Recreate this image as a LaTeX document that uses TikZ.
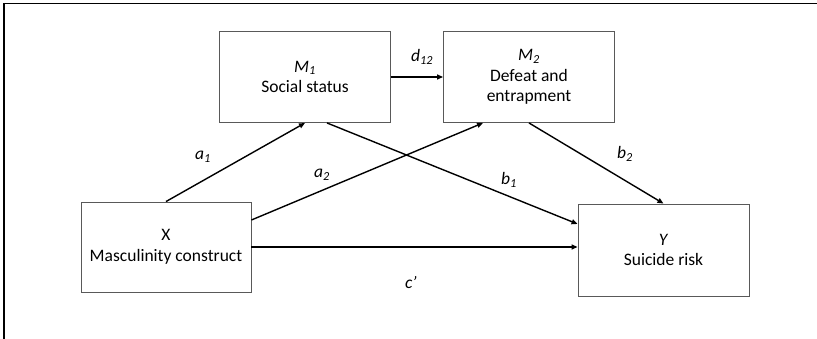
\documentclass[tikz,border=0pt]{standalone}
\usepackage{fontspec}
\setmainfont{Carlito}
\usepackage{tikz}
\usetikzlibrary{arrows.meta}

\tikzset{
 varbox/.style={draw=gray!70!black, line width=0.9pt, align=center, minimum width=171pt, minimum height=91pt, font=\fontsize{17.5}{20.5}\selectfont},
 path/.style={line width=1.4pt, -{Triangle[length=6pt,width=5pt]}},
 coef/.style={font=\fontsize{17.5}{20.5}\selectfont\itshape}
}
\newcommand{\sub}[2]{\textit{#1}\textsubscript{\textit{#2}}}

\begin{document}
\begin{tikzpicture}[x=1pt,y=-1pt]
\useasboundingbox (0,0) rectangle (817,339);
\draw[line width=1.3pt] (4,339) -- (4,3.5) -- (817,3.5);
\node[varbox] (M1) at (305,77) {\sub{M}{1}\\Social status};
\node[varbox] (M2) at (529,77) {\sub{M}{2}\\Defeat and\\entrapment};
\node[varbox, minimum width=170pt, minimum height=90pt] (X) at (166,247) {X\\Masculinity construct};
\node[varbox, minimum height=92pt] (Y) at (663.5,250) {\textit{Y}\\Suicide risk};
% paths
\draw[path] (M1.east) -- (M2.west);
\draw[path] (X.north) -- (M1.south);
\draw[path] ([yshift=27pt]X.east) -- ([xshift=-46pt]M2.south);
\draw[path] ([xshift=22pt]M1.south) -- ([yshift=26pt]Y.west);
\draw[path] (M2.south) -- (Y.north);
\draw[path] (X.east) -- ([yshift=3pt]Y.west);
% coefficients
\node[coef] (d12) at (422,57) {\sub{d}{12}};
\node[coef] (a1) at (203,157) {\sub{a}{1}};
\node[coef] (a2) at (322,175) {\sub{a}{2}};
\node[coef] (b1) at (509,180) {\sub{b}{1}};
\node[coef] (b2) at (625,154) {\sub{b}{2}};
\node[coef] (c) at (411,282) {c’};
\end{tikzpicture}
\end{document}
